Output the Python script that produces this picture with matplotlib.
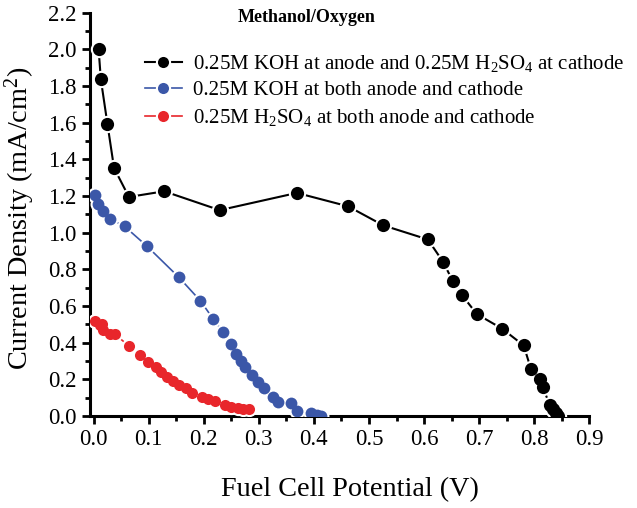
import matplotlib
matplotlib.use("Agg")
import matplotlib.pyplot as plt
from matplotlib.lines import Line2D
from matplotlib.ticker import MultipleLocator, FormatStrFormatter

# Data
black_x = [0.009, 0.013, 0.025, 0.037, 0.064, 0.128, 0.229, 0.369, 0.462, 0.526, 0.607,
           0.635, 0.652, 0.669, 0.696, 0.742, 0.781, 0.794, 0.811, 0.816, 0.828, 0.834,
           0.840, 0.844]
black_y = [2.00, 1.837, 1.593, 1.353, 1.195, 1.226, 1.123, 1.217, 1.144, 1.040, 0.963,
           0.839, 0.737, 0.659, 0.556, 0.476, 0.385, 0.258, 0.200, 0.156, 0.062, 0.040,
           0.015, 0.000]

blue_x = [0.002, 0.008, 0.017, 0.030, 0.056, 0.097, 0.155, 0.194, 0.217, 0.235, 0.250,
          0.259, 0.267, 0.275, 0.287, 0.298, 0.310, 0.325, 0.335, 0.358, 0.370, 0.395,
          0.405, 0.412]
blue_y = [1.204, 1.159, 1.120, 1.075, 1.035, 0.926, 0.756, 0.628, 0.530, 0.458, 0.392,
          0.338, 0.301, 0.269, 0.223, 0.187, 0.151, 0.102, 0.078, 0.069, 0.029, 0.015,
          0.005, 0.000]

red_x = [0.002, 0.011, 0.015, 0.017, 0.029, 0.038, 0.064, 0.084, 0.099, 0.113, 0.123,
         0.133, 0.144, 0.155, 0.167, 0.179, 0.196, 0.208, 0.220, 0.239, 0.250, 0.262,
         0.271, 0.282]
red_y = [0.519, 0.496, 0.500, 0.469, 0.450, 0.447, 0.383, 0.331, 0.296, 0.269, 0.241,
         0.214, 0.191, 0.169, 0.151, 0.127, 0.105, 0.091, 0.082, 0.060, 0.051, 0.042,
         0.037, 0.038]

labels = ["0.25M KOH at anode and 0.25M H$_2$SO$_4$ at cathode",
          "0.25M KOH at both anode and cathode",
          "0.25M H$_2$SO$_4$ at both anode and cathode"]

plt.rcParams['font.family'] = ['Liberation Serif', 'DejaVu Serif']
plt.rcParams['mathtext.fontset'] = 'custom'
plt.rcParams['mathtext.rm'] = 'Liberation Serif'
plt.rcParams['mathtext.it'] = 'Liberation Serif:italic'

fig = plt.figure(figsize=(6.37, 5.08), dpi=100)
ax = fig.add_axes([0.141, 0.181, 0.784, 0.794])

series = [
    (black_x, black_y, 'black', 1.5, 9.5),
    (blue_x, blue_y, '#3b57a8', 1.2, 8.5),
    (red_x, red_y, '#e8262b', 1.2, 8.0),
]
handles = []
for (xs, ys, c, lw, ms), lab in zip(series, labels):
    ax.plot(xs, ys, '-', color=c, lw=lw, zorder=2)
    ax.plot(xs, ys, 'o', color='white', ms=ms + 3.0, mec='none', zorder=3)
    ax.plot(xs, ys, 'o', color=c, ms=ms, mec='none', zorder=4)
    handles.append(Line2D([], [], color=c, lw=lw, marker='o', ms=9.5,
                          mfc=c, mec='white', mew=1.5, label=lab))

ax.set_xlim(-0.007, 0.9)
ax.set_ylim(0.0, 2.2)
ax.xaxis.set_major_locator(MultipleLocator(0.1))
ax.xaxis.set_minor_locator(MultipleLocator(0.05))
ax.yaxis.set_major_locator(MultipleLocator(0.2))
ax.yaxis.set_minor_locator(MultipleLocator(0.1))
ax.xaxis.set_major_formatter(FormatStrFormatter('%.1f'))
ax.yaxis.set_major_formatter(FormatStrFormatter('%.1f'))

for s in ['top', 'right']:
    ax.spines[s].set_visible(False)
for s in ['left', 'bottom']:
    ax.spines[s].set_linewidth(2.2)
ax.tick_params(which='major', direction='out', length=6, width=2, labelsize=16.5)
ax.tick_params(which='minor', direction='out', length=3.5, width=2)

ax.set_xlabel('Fuel Cell Potential (V)', fontsize=20.3)
ax.set_ylabel('Current Density (mA/cm$^2$)', fontsize=20.3)
ax.xaxis.set_label_coords(0.52, -0.152)
ax.yaxis.set_label_coords(-0.106, 0.49)

ax.text(0.435, 1.008, 'Methanol/Oxygen', transform=ax.transAxes, ha='center', va='top',
        fontsize=13, fontweight='bold')

ax.legend(handles=handles, loc='upper left', bbox_to_anchor=(0.111, 0.9), frameon=False,
          fontsize=15, numpoints=1, handlelength=1.75, handletextpad=0.55,
          labelspacing=0.32, borderpad=0, borderaxespad=0)

fig.savefig('out.png', dpi=100)
